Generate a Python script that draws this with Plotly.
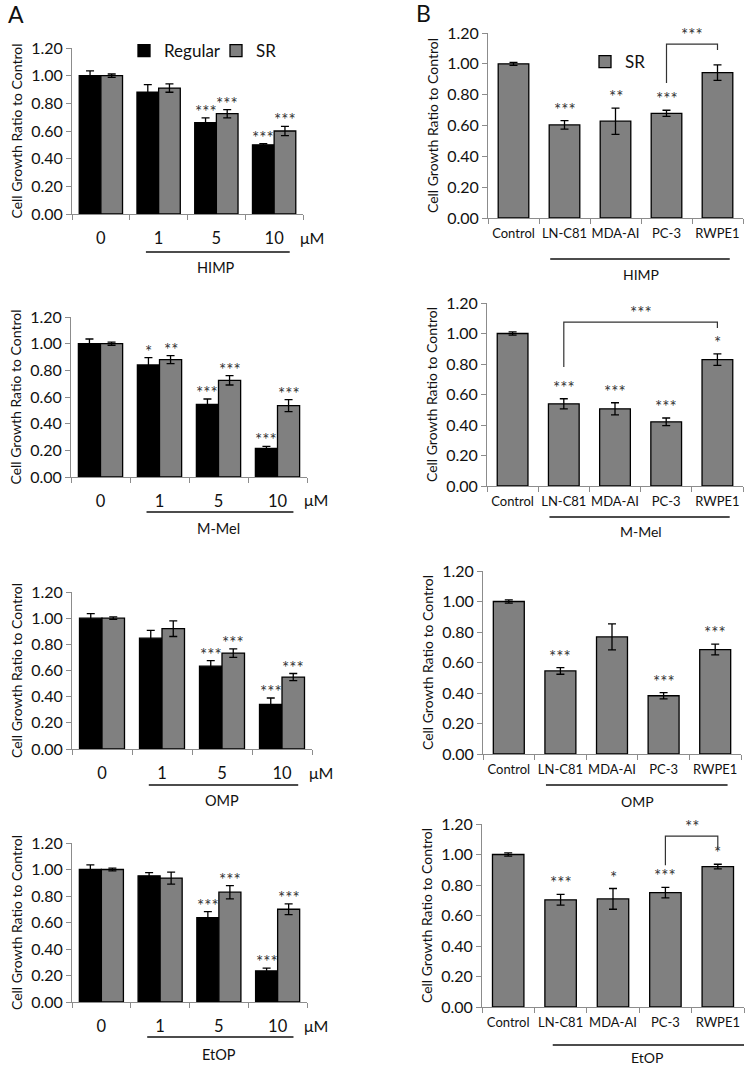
import plotly.graph_objects as go

W, H = 746, 1067
FONT = "Lato"

# ---------------- data ----------------
doses = ["0", "1", "5", "10"]
cells = ["Control", "LN-C81", "MDA-AI", "PC-3", "RWPE1"]

himp_reg = [1.00, 0.88, 0.66, 0.50]
himp_reg_err = [0.035, 0.055, 0.035, 0.008]
himp_sr = [1.00, 0.91, 0.725, 0.60]
himp_sr_err = [0.012, 0.03, 0.03, 0.034]
himp_reg_sig = ["", "", "***", "***"]
himp_sr_sig = ["", "", "***", "***"]

mmel_reg = [1.00, 0.84, 0.545, 0.215]
mmel_reg_err = [0.035, 0.055, 0.04, 0.015]
mmel_sr = [1.00, 0.88, 0.725, 0.535]
mmel_sr_err = [0.012, 0.03, 0.035, 0.045]
mmel_reg_sig = ["", "*", "***", "***"]
mmel_sr_sig = ["", "**", "***", "***"]

omp_reg = [1.00, 0.847, 0.633, 0.34]
omp_reg_err = [0.035, 0.06, 0.042, 0.05]
omp_sr = [1.00, 0.92, 0.733, 0.55]
omp_sr_err = [0.01, 0.06, 0.033, 0.027]
omp_reg_sig = ["", "", "***", "***"]
omp_sr_sig = ["", "", "***", "***"]

etop_reg = [1.00, 0.952, 0.637, 0.235]
etop_reg_err = [0.035, 0.025, 0.045, 0.02]
etop_sr = [1.00, 0.935, 0.829, 0.70]
etop_sr_err = [0.01, 0.045, 0.05, 0.04]
etop_reg_sig = ["", "", "***", "***"]
etop_sr_sig = ["", "", "***", "***"]

b_himp = [1.00, 0.604, 0.628, 0.679, 0.943]
b_himp_err = [0.01, 0.028, 0.085, 0.02, 0.05]
b_himp_sig = ["", "***", "**", "***", ""]

b_mmel = [1.00, 0.539, 0.506, 0.421, 0.829]
b_mmel_err = [0.01, 0.033, 0.04, 0.025, 0.038]
b_mmel_sig = ["", "***", "***", "***", "*"]

b_omp = [1.00, 0.545, 0.768, 0.382, 0.685]
b_omp_err = [0.01, 0.022, 0.085, 0.02, 0.035]
b_omp_sig = ["", "***", "", "***", "***"]

b_etop = [1.00, 0.703, 0.709, 0.75, 0.921]
b_etop_err = [0.01, 0.035, 0.068, 0.035, 0.015]
b_etop_sig = ["", "***", "*", "***", "*"]

y_ticks = [0, 0.2, 0.4, 0.6, 0.8, 1.0, 1.2]

# ---------------- layout helpers ----------------
def px(p):
    return p / W

def py(p):
    return 1 - p / H

BLACK = "#000000"
GREY = "#808080"
AXC = "#8c8c8c"
STAR = dict(family=FONT, size=17, color="#333333")

panelsA = [
    dict(n=1, name="HIMP", reg=himp_reg, rege=himp_reg_err, sr=himp_sr, sre=himp_sr_err,
         rs=himp_reg_sig, ss=himp_sr_sig, xr=(72, 303), yr=(48, 214), ul=252, lab=268, um=237),
    dict(n=2, name="M-Mel", reg=mmel_reg, rege=mmel_reg_err, sr=mmel_sr, sre=mmel_sr_err,
         rs=mmel_reg_sig, ss=mmel_sr_sig, xr=(71, 307), yr=(317, 477), ul=512, lab=528, um=500),
    dict(n=3, name="OMP", reg=omp_reg, rege=omp_reg_err, sr=omp_sr, sre=omp_sr_err,
         rs=omp_reg_sig, ss=omp_sr_sig, xr=(72, 312), yr=(592, 749), ul=785, lab=800, um=772),
    dict(n=4, name="EtOP", reg=etop_reg, rege=etop_reg_err, sr=etop_sr, sre=etop_sr_err,
         rs=etop_reg_sig, ss=etop_sr_sig, xr=(72, 307), yr=(843, 1002), ul=1037, lab=1054, um=1025),
]

panelsB = [
    dict(n=5, name="HIMP", v=b_himp, e=b_himp_err, s=b_himp_sig, xr=(488, 743), yr=(33, 218),
         ul=259, ulx=(0.72, 4.24), lab=275, labx=2.5,
         br=dict(a=3, b=4, ya=0.875, yb=1.09, top=1.128, txt="***")),
    dict(n=6, name="M-Mel", v=b_mmel, e=b_mmel_err, s=b_mmel_sig, xr=(487, 743), yr=(303, 486),
         ul=517, ulx=(0.72, 4.24), lab=531, labx=2.5,
         br=dict(a=1, b=4, ya=0.78, yb=1.036, top=1.075, txt="***")),
    dict(n=7, name="OMP", v=b_omp, e=b_omp_err, s=b_omp_sig, xr=(483, 741), yr=(571, 754),
         ul=785, ulx=(0.72, 4.24), lab=801, labx=2.5, br=None),
    dict(n=8, name="EtOP", v=b_etop, e=b_etop_err, s=b_etop_sig, xr=(482, 744), yr=(824, 1007),
         ul=1045, ulx=(0.85, 4.7), lab=1057, labx=2.65,
         br=dict(a=3, b=4, ya=0.93, yb=1.036, top=1.12, txt="**")),
]

fig = go.Figure()
annotations = []
shapes = []
layout = {}

def sfx(n):
    return "" if n == 1 else str(n)

def axis_pair(n, xr, yr, cats, tickfont, standoff):
    s = sfx(n)
    layout["xaxis" + s] = dict(
        domain=[px(xr[0]), px(xr[1])], anchor="y" + s, type="category",
        categoryorder="array", categoryarray=cats, range=[-0.5, len(cats) - 0.5],
        showline=True, linecolor=AXC, linewidth=1, ticks="outside", tickson="boundaries",
        ticklen=5, tickcolor=AXC, showgrid=False, zeroline=False, tickangle=0,
        tickfont=dict(family=FONT, size=tickfont, color="#111"), ticklabelstandoff=standoff,
        fixedrange=True, automargin=False,
    )
    layout["yaxis" + s] = dict(
        domain=[py(yr[1]), py(yr[0])], anchor="x" + s, range=[0, 1.2],
        tickvals=y_ticks, tickformat=".2f", showline=True, linecolor=AXC, linewidth=1,
        ticks="outside", ticklen=5, tickcolor=AXC, showgrid=False, zeroline=False,
        tickfont=dict(family=FONT, size=16, color="#111"),
        title=dict(text="Cell Growth Ratio to Control", font=dict(family=FONT, size=14, color="#111"),
                   standoff=5),
        fixedrange=True, automargin=False,
    )

BW_A = 0.375
for p in panelsA:
    n = p["n"]
    s = sfx(n)
    axis_pair(n, p["xr"], p["yr"], doses, 16.5, 9)
    first = n == 1
    fig.add_trace(go.Bar(
        x=doses, y=p["reg"], width=BW_A, offset=-BW_A, name="Regular",
        marker=dict(color=BLACK, line=dict(color="black", width=1.3)),
        error_y=dict(type="data", array=p["rege"], color="black", thickness=1.3, width=4),
        xaxis="x" + s, yaxis="y" + s, showlegend=first, legend="legend",
    ))
    fig.add_trace(go.Bar(
        x=doses, y=p["sr"], width=BW_A, offset=0, name="SR",
        marker=dict(color=GREY, line=dict(color="black", width=1.3)),
        error_y=dict(type="data", array=p["sre"], color="black", thickness=1.3, width=4),
        xaxis="x" + s, yaxis="y" + s, showlegend=first, legend="legend",
    ))
    for i in range(len(doses)):
        for vals, errs, sig, off in ((p["reg"], p["rege"], p["rs"], -BW_A / 2),
                                     (p["sr"], p["sre"], p["ss"], BW_A / 2)):
            if sig[i]:
                annotations.append(dict(
                    x=i + off, y=vals[i] + errs[i], xref="x" + s, yref="y" + s,
                    text=sig[i], showarrow=False, yanchor="bottom", yshift=-6,
                    font=STAR))
    # micro-molar unit
    annotations.append(dict(x=3.42, y=py(p["um"]), xref="x" + s, yref="paper", text="μM",
                            showarrow=False, xanchor="left", yanchor="middle",
                            font=dict(family=FONT, size=16, color="#111")))
    # group underline + label
    shapes.append(dict(type="line", xref="x" + s, yref="paper", x0=0.78, x1=3.27,
                       y0=py(p["ul"]), y1=py(p["ul"]), line=dict(color="#111", width=1.6)))
    annotations.append(dict(x=2.0, y=py(p["lab"]), xref="x" + s, yref="paper", text=p["name"],
                            showarrow=False, yanchor="middle",
                            font=dict(family=FONT, size=14.5, color="#111")))

for p in panelsB:
    n = p["n"]
    s = sfx(n)
    axis_pair(n, p["xr"], p["yr"], cells, 13, 3)
    fig.add_trace(go.Bar(
        x=cells, y=p["v"], width=0.6, name="SR",
        marker=dict(color=GREY, line=dict(color="black", width=1.3)),
        error_y=dict(type="data", array=p["e"], color="black", thickness=1.3, width=4),
        xaxis="x" + s, yaxis="y" + s, showlegend=(n == 5), legend="legend2",
    ))
    for i in range(len(cells)):
        if p["s"][i]:
            annotations.append(dict(
                x=i, y=p["v"][i] + p["e"][i], xref="x" + s, yref="y" + s,
                text=p["s"][i], showarrow=False, yanchor="bottom", yshift=-1,
                font=STAR))
    shapes.append(dict(type="line", xref="x" + s, yref="paper", x0=p["ulx"][0], x1=p["ulx"][1],
                       y0=py(p["ul"]), y1=py(p["ul"]), line=dict(color="#111", width=1.6)))
    annotations.append(dict(x=p["labx"], y=py(p["lab"]), xref="x" + s, yref="paper", text=p["name"],
                            showarrow=False, yanchor="middle",
                            font=dict(family=FONT, size=14, color="#111")))
    br = p["br"]
    if br:
        shapes.append(dict(type="path", xref="x" + s, yref="y" + s,
                           path=f"M {br['a']},{br['ya']} L {br['a']},{br['top']} "
                                f"L {br['b']},{br['top']} L {br['b']},{br['yb']}",
                           line=dict(color="#333", width=1.2)))
        annotations.append(dict(x=(br["a"] + br["b"]) / 2, y=br["top"], xref="x" + s, yref="y" + s,
                                text=br["txt"], showarrow=False, yanchor="bottom", yshift=-3,
                                font=STAR))

# panel letters
annotations.append(dict(x=px(6), y=py(14), xref="paper", yref="paper", text="A", showarrow=False,
                        xanchor="left", yanchor="middle", font=dict(family=FONT, size=23, color="#111")))
annotations.append(dict(x=px(414), y=py(13), xref="paper", yref="paper", text="B", showarrow=False,
                        xanchor="left", yanchor="middle", font=dict(family=FONT, size=23, color="#111")))

fig.update_layout(
    width=W, height=H, margin=dict(l=0, r=0, t=0, b=0, autoexpand=False),
    paper_bgcolor="white", plot_bgcolor="white",
    barmode="overlay",
    font=dict(family=FONT, color="#111"),
    legend=dict(orientation="h", x=px(124), y=py(51), xanchor="left", yanchor="middle",
                font=dict(family=FONT, size=17, color="#111"), bgcolor="rgba(0,0,0,0)",
                itemwidth=30, traceorder="normal", entrywidth=47, entrywidthmode="pixels"),
    legend2=dict(orientation="h", x=px(585), y=py(62), xanchor="left", yanchor="middle",
                 font=dict(family=FONT, size=17, color="#111"), bgcolor="rgba(0,0,0,0)",
                 itemwidth=30),
    annotations=annotations, shapes=shapes,
    **layout,
)

fig.write_html("out.html", config={"displayModeBar": False},
               post_script="document.body.style.margin='0';document.body.style.overflow='hidden';")
